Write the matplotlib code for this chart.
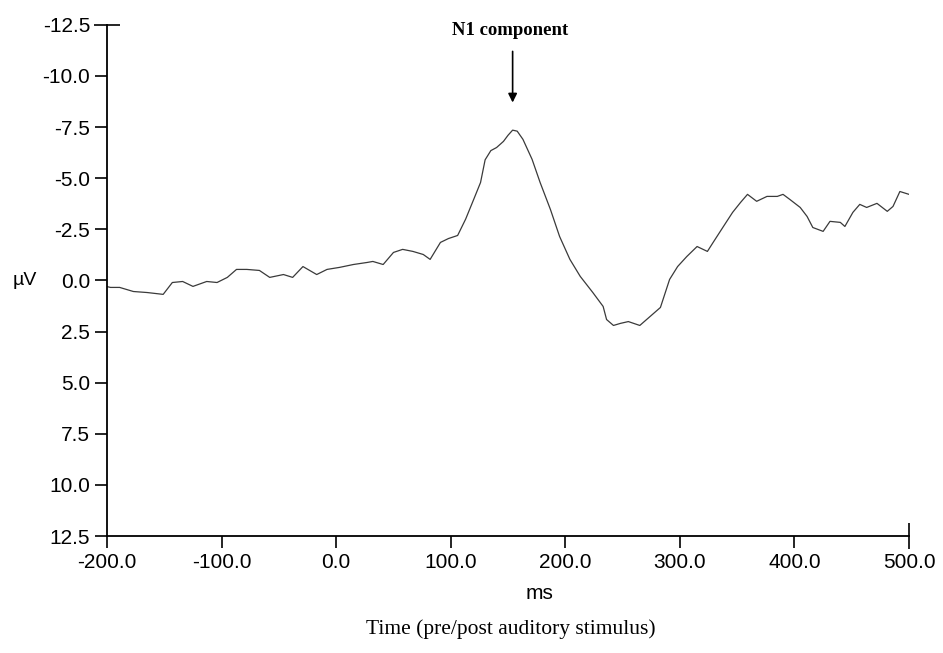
import numpy as np
import matplotlib.pyplot as plt
from matplotlib.ticker import FormatStrFormatter

plt.rcParams['axes.unicode_minus'] = False

# ERP waveform (ms, microvolt; negative plotted upward)
time_ms = [-200, -197, -189, -177, -165, -151, -143, -134, -125, -113, -104, -95,
           -87, -78, -67, -58, -46, -38, -29, -17, -8, 3, 15, 27, 32, 41, 50, 58,
           67, 76, 82, 91, 98, 106, 113, 120, 126, 130, 135, 140, 146, 150, 154,
           158, 163, 171, 178, 187, 195, 204, 213, 224, 233, 236, 242, 248, 255,
           265, 274, 283, 291, 298, 306, 315, 324, 329, 338, 346, 353, 359, 367,
           376, 385, 390, 396, 405, 411, 416, 425, 431, 440, 444, 451, 457, 463,
           472, 481, 486, 492, 500]
amp_uv = [0.30, 0.34, 0.34, 0.54, 0.59, 0.68, 0.10, 0.05, 0.29, 0.05, 0.10, -0.15,
          -0.54, -0.54, -0.49, -0.15, -0.29, -0.15, -0.68, -0.29, -0.54, -0.64,
          -0.78, -0.88, -0.93, -0.78, -1.37, -1.52, -1.42, -1.27, -1.03, -1.86,
          -2.05, -2.2, -3.0, -3.96, -4.79, -5.9, -6.35, -6.5, -6.8, -7.1, -7.35,
          -7.3, -6.9, -5.92, -4.79, -3.47, -2.15, -1.03, -0.20, 0.59, 1.27, 1.91,
          2.20, 2.10, 2.01, 2.20, 1.76, 1.32, -0.05, -0.68, -1.17, -1.66, -1.42,
          -1.86, -2.64, -3.33, -3.82, -4.21, -3.87, -4.11, -4.11, -4.21, -3.96,
          -3.57, -3.13, -2.59, -2.40, -2.89, -2.84, -2.64, -3.33, -3.72, -3.57,
          -3.77, -3.38, -3.62, -4.35, -4.21]

x_ticks = [-200, -100, 0, 100, 200, 300, 400, 500]
y_ticks = [-12.5, -10.0, -7.5, -5.0, -2.5, 0.0, 2.5, 5.0, 7.5, 10.0, 12.5]

fig = plt.figure(figsize=(9.43, 6.53), dpi=100)
ax = fig.add_axes([0.1135, 0.179, 0.8505, 0.783])

ax.plot(time_ms, amp_uv, color='#3a3a3a', lw=0.9)

ax.set_xlim(-200, 500)
ax.set_ylim(12.5, -12.5)
ax.set_xticks(x_ticks)
ax.set_yticks(y_ticks)
ax.xaxis.set_major_formatter(FormatStrFormatter('%.1f'))
ax.yaxis.set_major_formatter(FormatStrFormatter('%.1f'))

for s in ['top', 'right']:
	ax.spines[s].set_visible(False)
for s in ['left', 'bottom']:
	ax.spines[s].set_linewidth(1.3)

ax.tick_params(axis='both', direction='out', length=8.5, width=1.2,
               labelsize=15, pad=3.5)
for lab in ax.get_xticklabels() + ax.get_yticklabels():
	lab.set_family('Liberation Sans')

# the 500 tick and the -12.5 tick cross the axis line
last = ax.xaxis.get_major_ticks()[-1]
last.tick1line.set_marker('|')
last.tick1line.set_markersize(19)
top = ax.yaxis.get_major_ticks()[0]
top.tick1line.set_marker('_')
top.tick1line.set_markersize(19)

ax.set_ylabel('µV', rotation=0, fontsize=14, family='Liberation Sans',
              ha='center', va='center')
ax.yaxis.set_label_coords(-0.103, 0.5)
ax.set_xlabel('ms', fontsize=15, family='Liberation Sans', va='center')
ax.xaxis.set_label_coords(0.539, -0.113)

ax.annotate('', xy=(154, -8.7), xytext=(154, -11.2),
            arrowprops=dict(arrowstyle='-|>', color='black', lw=1.2,
                            mutation_scale=13, shrinkA=0, shrinkB=0),
            annotation_clip=False)
ax.text(152, -12.2, 'N1 component', fontsize=13.5, weight='bold',
        family='Liberation Serif', ha='center', va='center', clip_on=False)

fig.text(511 / 943, 1 - 629 / 653, 'Time (pre/post auditory stimulus)',
         fontsize=15.5, family='Liberation Serif', ha='center', va='center')

plt.savefig('out.png', dpi=100)
